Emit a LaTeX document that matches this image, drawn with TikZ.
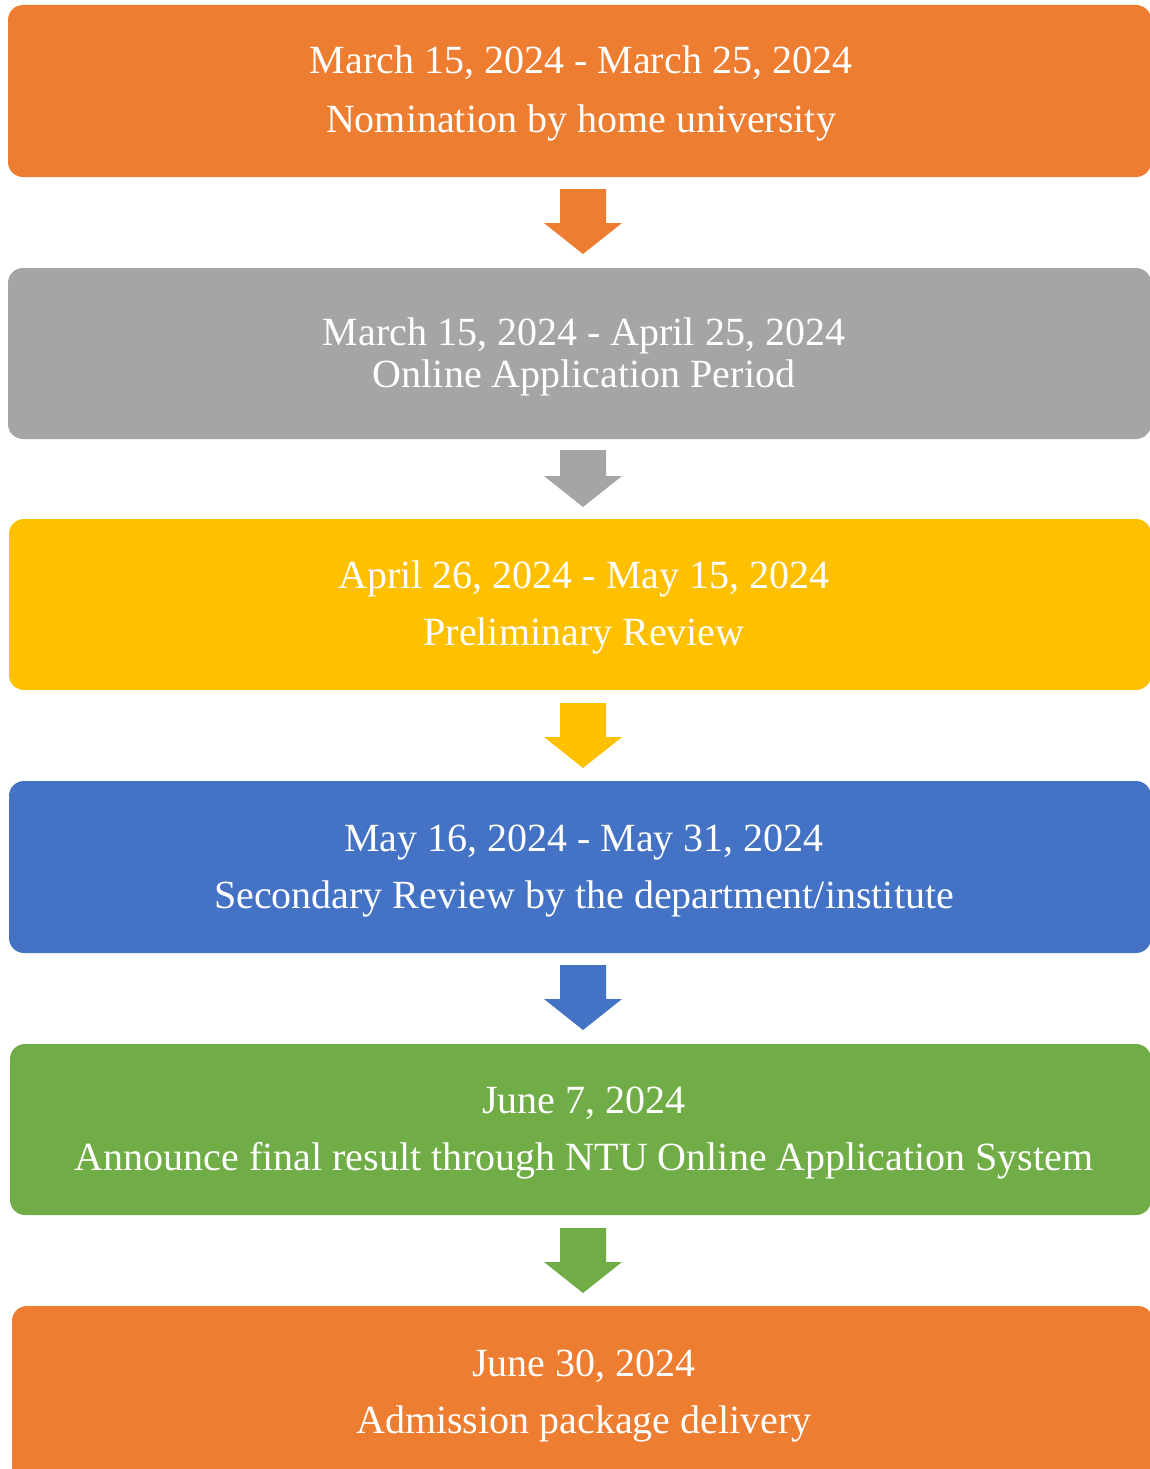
\documentclass[tikz,border=0pt]{standalone}
\usepackage{fontspec}
\setmainfont{Liberation Serif}
\usetikzlibrary{calc}
\definecolor{cOrange}{HTML}{ED7D31}
\definecolor{cGray}{HTML}{A5A5A5}
\definecolor{cYellow}{HTML}{FFC000}
\definecolor{cBlue}{HTML}{4472C4}
\definecolor{cGreen}{HTML}{70AD47}
\tikzset{
  stagebox/.style={rounded corners=15pt, draw=none, inner sep=0pt, outer sep=0pt},
  stagetext/.style={text=white, anchor=base, inner sep=0pt, font=\fontsize{40}{48}\selectfont},
}
\newcommand{\flowarrow}[4]{% color, name, top y, tip y
  \coordinate (#2) at (583,#3);
  \fill[#1] ($(#2)+(-23,0)$) -- ($(#2)+(23,0)$) -- ($(#2)+(23,#4-#3-31)$) -- ($(#2)+(39,#4-#3-31)$)
     -- ($(#2)+(0,#4-#3)$) -- ($(#2)+(-39,#4-#3-31)$) -- ($(#2)+(-23,#4-#3-31)$) -- cycle;
}
\begin{document}
\begin{tikzpicture}[x=1pt,y=-1pt]
\useasboundingbox (0,0) rectangle (1150,1469);
\clip (0,0) rectangle (1150,1469);
\fill[white] (0,0) rectangle (1150,1469);
% boxes
\path[fill=cOrange, stagebox] (8,5) rectangle (1151,177);
\path[fill=cGray, stagebox] (8,268) rectangle (1151,439);
\path[fill=cYellow, stagebox] (9,519) rectangle (1151,690);
\path[fill=cBlue, stagebox] (9,781) rectangle (1151,953);
\path[fill=cGreen, stagebox] (10,1044) rectangle (1151,1215);
\path[fill=cOrange, stagebox] (12,1306) rectangle (1153,1490);
% texts
\node[stagetext] (t1a) at (581,74) {March 15, 2024 - March 25, 2024};
\node[stagetext] (t1b) at (581,132) {Nomination by home university};
\node[stagetext] (t2a) at (584,345) {March 15, 2024 - April 25, 2024};
\node[stagetext] (t2b) at (584,387) {Online Application Period};
\node[stagetext] (t3a) at (584,588) {April 26, 2024 - May 15, 2024};
\node[stagetext] (t3b) at (584,645) {Preliminary Review};
\node[stagetext] (t4a) at (584,851) {May 16, 2024 - May 31, 2024};
\node[stagetext] (t4b) at (584,908) {Secondary Review by the department/institute};
\node[stagetext] (t5a) at (584,1113) {June 7, 2024};
\node[stagetext] (t5b) at (584,1170) {Announce final result through NTU Online Application System};
\node[stagetext] (t6a) at (584,1376) {June 30, 2024};
\node[stagetext] (t6b) at (584,1433) {Admission package delivery};
% arrows
\flowarrow{cOrange}{a1}{189}{254}
\flowarrow{cGray}{a2}{450}{507}
\flowarrow{cYellow}{a3}{703}{768}
\flowarrow{cBlue}{a4}{965}{1030}
\flowarrow{cGreen}{a5}{1228}{1293}
\end{tikzpicture}
\end{document}
